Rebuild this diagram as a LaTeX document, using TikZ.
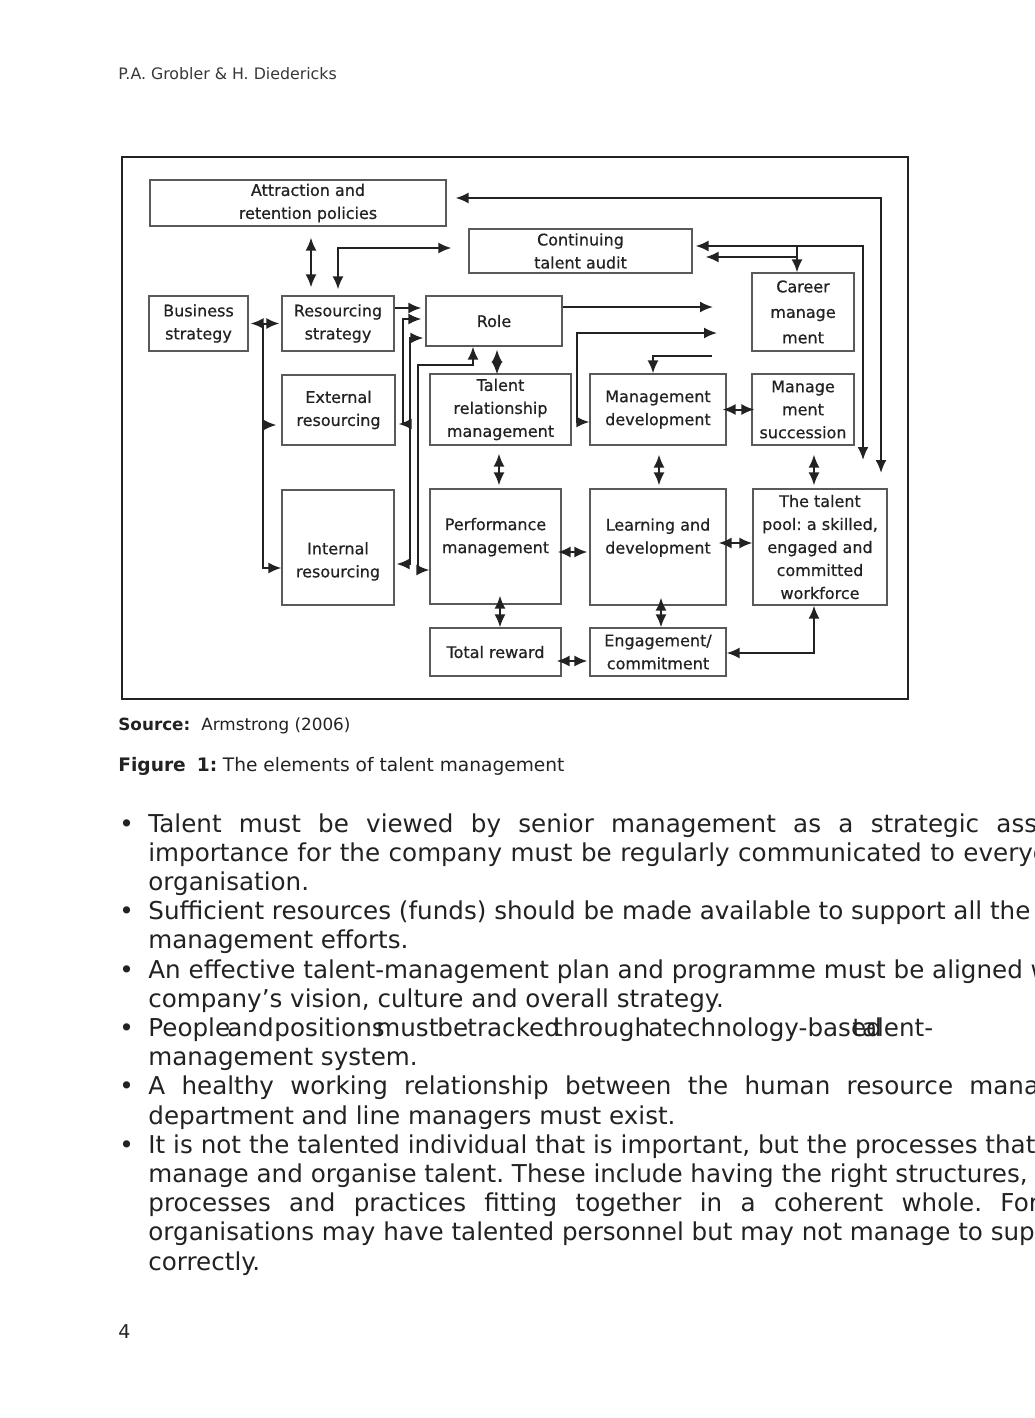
\documentclass[tikz,border=0pt]{standalone}
\usepackage{fontspec}
\setmainfont{DejaVu Sans}
\newfontfamily\diagfam{DejaVu Sans}[FakeBold=0.6]
\usepackage{xcolor}
\usepackage{tikz}
\usetikzlibrary{positioning,arrows.meta,calc}
\definecolor{ink}{HTML}{222222}
\definecolor{boxgray}{HTML}{5A5A5A}
\newcommand\diagfont{\diagfam\fontsize{8}{11.5}\selectfont}
\newcommand\bodyfont{\fontsize{12.3}{14.6}\selectfont}
\frenchspacing
\tikzset{
  box/.style={draw=boxgray,line width=0.6pt,align=center,inner sep=0pt,font=\diagfont,text=ink},
  lower/.style={execute at begin node={\rule{0pt}{10pt}}},
  arr/.style={-{Latex[length=6.5pt,width=5.5pt]},line width=1pt,draw=ink},
  dbl/.style={{Latex[length=6.5pt,width=5.5pt]}-{Latex[length=6.5pt,width=5.5pt]},line width=1pt,draw=ink},
  body/.style={anchor=base west,inner sep=0pt,font=\bodyfont,text=ink},
  small/.style={anchor=base west,inner sep=0pt,text=ink}
}

\begin{document}
\begin{tikzpicture}[x=0.5pt,y=-0.5pt]
\useasboundingbox (0,0) rectangle (1034,1418);
\fill[white] (0,0) rectangle (1034,1418);
\clip (0,0) rectangle (1034,1418);

\node[small,font=\fontsize{7.9}{9.5}\selectfont,text=ink!90] (head) at (118,80) {P.A. Grobler \& H. Diedericks};

\draw[line width=1pt,draw=ink] (122,157) rectangle (908,699);

\node[box,lower,minimum width=148pt,minimum height=23pt] (attr) at (298,203) {\hspace*{10pt}Attraction and\\\hspace*{10pt}retention policies};
\node[box,minimum width=111.5pt,minimum height=22pt] (audit) at (580.5,251) {Continuing\\talent audit};
\node[box,lower,minimum width=49.5pt,minimum height=27.5pt] (bus) at (198.5,323.5) {Business\\strategy};
\node[box,lower,minimum width=56pt,minimum height=27.5pt] (res) at (338,323.5) {Resourcing\\strategy};
\node[box,minimum width=68pt,minimum height=25pt] (role) at (494,321) {Role};
\node[box,minimum width=51pt,minimum height=39pt,font=\diagfam\fontsize{8}{12.75}\selectfont] (career) at (803,312) {Career\\manage\\ment};
\node[box,lower,minimum width=56.5pt,minimum height=35pt] (ext) at (338.5,410) {External\\resourcing};
\node[box,lower,minimum width=70.5pt,minimum height=35.5pt] (trm) at (500.5,409.5) {Talent\\relationship\\management};
\node[box,lower,minimum width=68pt,minimum height=35.5pt] (md) at (658,409.5) {Management\\development};
\node[box,lower,minimum width=51pt,minimum height=35.5pt] (succ) at (803,409.5) {Manage\\ment\\succession};
\node[box,minimum width=56pt,minimum height=57.5pt] (int) at (338,547.5) {\rule{0pt}{20pt}Internal\\resourcing};
\node[box,lower,minimum width=65.5pt,minimum height=57.5pt] (perf) at (495.5,546.5) {Performance\\management\rule[-11pt]{0pt}{11pt}};
\node[box,lower,minimum width=68pt,minimum height=58pt] (ld) at (658,547) {Learning and\\development\rule[-11pt]{0pt}{11pt}};
\node[box,lower,minimum width=67pt,minimum height=58pt] (pool) at (820,547) {The talent\\pool: a skilled,\\engaged and\\committed\\workforce};
\node[box,minimum width=65.5pt,minimum height=24pt] (reward) at (495.5,652) {Total reward};
\node[box,lower,minimum width=68pt,minimum height=24pt] (eng) at (658,652) {Engagement/\\commitment};

\coordinate (bj) at ($(bus.east)+(14,0)$);
\coordinate (tfree) at (881,473);
\coordinate (sfree) at (863,460);
\coordinate (rfree) at (713,307);
\coordinate (mfree) at (717,333);
\coordinate (dfree) at (712,356);
\coordinate (cj) at (797,246);

\draw[dbl,shorten <=4.5pt] (attr.east |- 0,198) -| (tfree);
\draw[dbl,shorten <=1.5pt] (audit.east |- 0,246) -| (sfree);
\draw[arr] (cj) -- (career.north -| cj);
\draw[arr,shorten >=6.5pt] (cj |- 0,257) -- (audit.east |- 0,257);
\draw[dbl,shorten <=5.5pt,shorten >=4pt] (attr.south -| 311,0) -- (res.north -| 311,0);
\draw[dbl,shorten <=3pt,shorten >=8.5pt] (res.north) |- ([yshift=1.5pt]audit.west);
\draw[dbl,shorten <=1pt,shorten >=1pt] (bus.east) -- (res.west);
\draw[arr] (bj) |- (int.west |- 0,568);
\draw[arr,shorten >=2.5pt] (bj |- 0,425) -- (ext.west |- 0,425);
\draw[arr,shorten >=2pt] (res.east |- 0,308) -- (role.west |- 0,308);
\draw[dbl,shorten <=2pt,shorten >=1.5pt] (role.west |- 0,319) -| (403,424) -- (ext.east |- 0,424);
\draw[dbl,shorten <=1pt,shorten >=1pt] (role.west |- 0,338) -| (410,564) -- (int.east |- 0,564);
\draw[dbl] (role.south -| 473,0) |- (418,365) |- (perf.west |- 0,570);
\draw[dbl,shorten <=1.5pt,shorten >=-0.5pt] (role.south -| 497,0) -- (trm.north -| 497,0);
\draw[arr] (role.east |- rfree) -- (rfree);
\draw[dbl] (mfree) -| (577,422) -- (md.west |- 0,422);
\draw[arr] (dfree) -| (md.north -| 653,0);
\draw[dbl,shorten <=-2pt,shorten >=-1.5pt] (md.east) -- (succ.west);
\draw[dbl,shorten <=4pt,shorten >=1.5pt] (trm.south -| 499,0) -- (perf.north -| 499,0);
\draw[dbl,shorten <=4.5pt,shorten >=1.5pt] (md.south -| 659,0) -- (ld.north -| 659,0);
\draw[dbl,shorten <=4.5pt,shorten >=1.5pt] (succ.south -| 814,0) -- (pool.north -| 814,0);
\draw[dbl,shorten <=-2pt,shorten >=1pt] (perf.east |- 0,552) -- (ld.west |- 0,552);
\draw[dbl,shorten <=-4pt] (ld.east |- 0,543) -- (pool.west |- 0,543);
\draw[dbl,shorten <=-4.5pt] (perf.south -| 500,0) -- (reward.north -| 500,0);
\draw[dbl,shorten <=-4pt] (ld.south -| 661,0) -- (eng.north -| 661,0);
\draw[dbl,shorten <=-2.5pt,shorten >=1pt] (reward.east |- 0,661) -- (eng.west |- 0,661);
\draw[dbl] (pool.south -| 814,0) |- (eng.east |- 0,653);

\node[small,font=\fontsize{8.4}{10}\selectfont] (src) at (118,730) {\textbf{Source:}\hspace{5.5pt}Armstrong (2006)};
\node[small,font=\fontsize{9.3}{11}\selectfont] (cap) at (118,771) {\textbf{Figure\hspace{0.6em}1:}\hspace{0.3em}The elements of talent management};

\foreach \k in {0,3,5,7,9,11}
  \node[body] (dot\k) at (119,832+29.2*\k) {•};
\node[body] (l0) at (148,832) {\makebox[424pt][s]{Talent must be viewed by senior management as a strategic \rlap{asset and its}}};
\node[body] (l1) at (148,861.2) {\makebox[407.5pt][s]{importance for the company must be regularly communicated to \rlap{everyone in the}}};
\node[body] (l2) at (148,890.4) {organisation.};
\node[body] (l3) at (148,919.6) {Sufficient resources (funds) should be made available to support all the talent-};
\node[body] (l4) at (148,948.8) {management efforts.};
\node[body] (l5) at (148,978) {An effective talent-management plan and programme must be aligned with the};
\node[body] (l6) at (148,1007.2) {company’s vision, culture and overall strategy.};
\foreach \x/\w [count=\i] in {148/People,227/and,274/positions,376/must,437/be,467/tracked,553/through,648/a,662/technology-based,852/talent-}
  \node[body] (w\i) at (\x,1036.4) {\w};
\node[body] (l8) at (148,1065.6) {management system.};
\node[body] (l9) at (148,1094.8) {\makebox[410.5pt][s]{A healthy working relationship between the human resource \rlap{management}}};
\node[body] (l10) at (148,1124) {department and line managers must exist.};
\node[body] (l11) at (148,1153.2) {\makebox[418.5pt][s]{It is not the talented individual that is important, but the processes \rlap{that}}};
\node[body] (l12) at (148,1182.4) {manage and organise talent. These include having the right structures,};
\node[body] (l13) at (148,1211.6) {\makebox[426pt][s]{processes and practices fitting together in a coherent whole. \rlap{For example,}}};
\node[body] (l14) at (148,1240.8) {organisations may have talented personnel but may not manage to support them};
\node[body] (l15) at (148,1270) {correctly.};

\node[small,font=\fontsize{9.5}{11}\selectfont] (pnum) at (118,1338) {4};
\end{tikzpicture}
\end{document}
